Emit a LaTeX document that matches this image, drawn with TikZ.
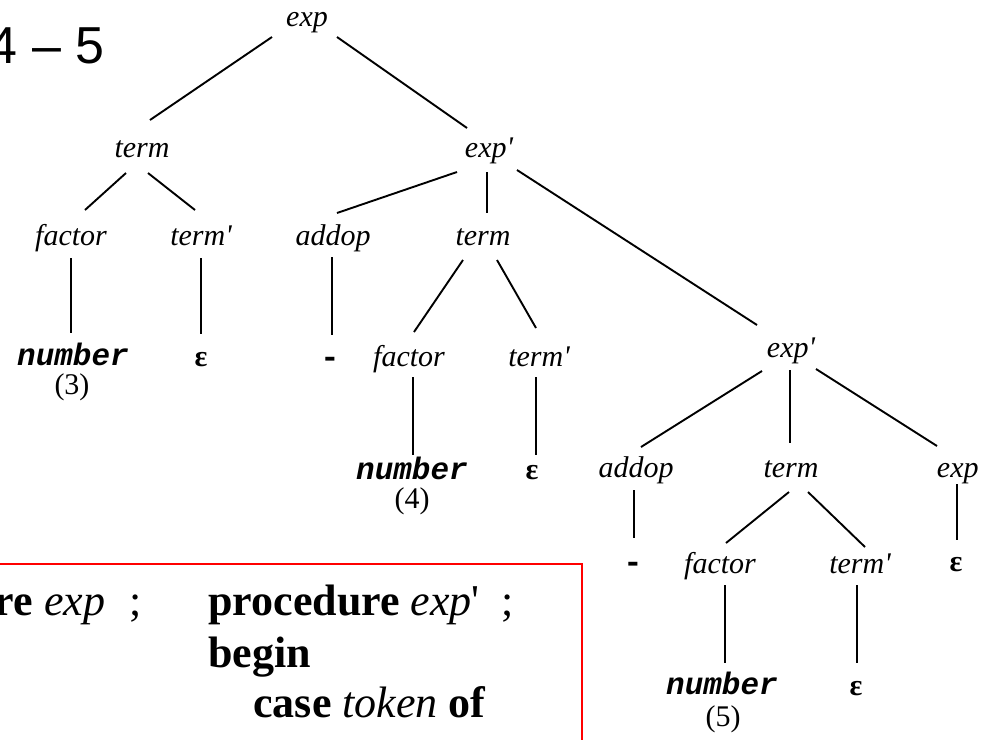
\documentclass[tikz,border=0pt]{standalone}
\usepackage{fontspec}
\newfontfamily\serif{Liberation Serif}[Ligatures=TeXOff]
\newfontfamily\mono{Liberation Mono}
\newfontfamily\sans{Liberation Sans}
\begin{document}
\begin{tikzpicture}[x=0.5pt,y=-0.5pt,
  lbl/.style={anchor=base,inner sep=0pt,font=\serif\fontsize{15}{18}\selectfont\itshape},
  tok/.style={anchor=base,inner sep=0pt,font=\mono\fontsize{15.5}{18}\selectfont\bfseries\itshape},
  eps/.style={anchor=base,inner sep=0pt,font=\serif\fontsize{15}{18}\selectfont\bfseries},
  val/.style={anchor=base,inner sep=0pt,font=\serif\fontsize{15}{18}\selectfont},
  minus/.style={anchor=base,inner sep=0pt,font=\mono\fontsize{16}{18}\selectfont\bfseries},
  codeline/.style={inner sep=0pt,font=\serif\fontsize{22}{26}\selectfont},
  branch/.style={line width=0.95pt},
  frame/.style={draw=red,line width=1pt},
]
\useasboundingbox (0,0) rectangle (982,740);
\clip (0,0) rectangle (982,740);

% heading
\node[anchor=base east,inner sep=0pt,font=\sans\fontsize{26}{30}\selectfont] (title) at (105,63) {4 – 5};

% parse tree
\node[lbl] (e0) at (307,26) {exp};
\node[lbl] (t1) at (142,157) {term};
\node[lbl] (x1) at (489,157) {exp'};
\node[lbl] (f1) at (71,245) {factor};
\node[lbl] (tp1) at (201,245) {term'};
\node[lbl] (a1) at (333,245) {addop};
\node[lbl] (t2) at (483,245) {term};
\node[tok] (n3) at (73,365) {number};
\node[val] (v3) at (72,394) {(3)};
\node[eps] (ep1) at (201,366) {ε};
\node[minus] (m1) at (330,367) {-};
\node[lbl] (f2) at (409,366) {factor};
\node[lbl] (tp2) at (539,366) {term'};
\node[lbl] (x2) at (791,357) {exp'};
\node[tok] (n4) at (412,479) {number};
\node[val] (v4) at (412,508) {(4)};
\node[eps] (ep2) at (532,479) {ε};
\node[lbl] (a2) at (636,477) {addop};
\node[lbl] (t3) at (791,477) {term};
\node[lbl] (x3) at (961,477) {exp'};
\node[minus] (m2) at (633,572) {-};
\node[lbl] (f3) at (720,573) {factor};
\node[lbl] (tp3) at (860,573) {term'};
\node[eps] (ep3) at (956,571) {ε};
\node[tok] (n5) at (722,694) {number};
\node[val] (v5) at (723,726) {(5)};
\node[eps] (ep4) at (856,695) {ε};

\begin{scope}[branch]
\draw ([shift={(-35,11)}]e0.base) -- ([shift={(8,-37)}]t1.base);
\draw ([shift={(30,11)}]e0.base) -- ([shift={(-22,-29)}]x1.base);
\draw ([shift={(-16,16)}]t1.base) -- ([shift={(14,-35)}]f1.base);
\draw ([shift={(6,16)}]t1.base) -- ([shift={(-6,-35)}]tp1.base);
\draw ([shift={(0,13)}]f1.base) -- ([shift={(-2,-32)}]n3.base);
\draw ([shift={(0,13)}]tp1.base) -- ([shift={(0,-32)}]ep1.base);
\draw ([shift={(-32,15)}]x1.base) -- ([shift={(4,-32)}]a1.base);
\draw ([shift={(-2,15)}]x1.base) -- ([shift={(4,-32)}]t2.base);
\draw ([shift={(28,13)}]x1.base) -- ([shift={(-34,-32)}]x2.base);
\draw ([shift={(-1,12)}]a1.base) -- ([shift={(2,-32)}]m1.base);
\draw ([shift={(-20,15)}]t2.base) -- ([shift={(5,-34)}]f2.base);
\draw ([shift={(14,15)}]t2.base) -- ([shift={(-3,-38)}]tp2.base);
\draw ([shift={(4,11)}]f2.base) -- ([shift={(1,-24)}]n4.base);
\draw ([shift={(-3,11)}]tp2.base) -- ([shift={(4,-24)}]ep2.base);
\draw ([shift={(-29,14)}]x2.base) -- ([shift={(5,-30)}]a2.base);
\draw ([shift={(-1,13)}]x2.base) -- ([shift={(-1,-34)}]t3.base);
\draw ([shift={(25,12)}]x2.base) -- ([shift={(-24,-31)}]x3.base);
\draw ([shift={(-2,13)}]a2.base) -- ([shift={(1,-34)}]m2.base);
\draw ([shift={(-2,15)}]t3.base) -- ([shift={(6,-30)}]f3.base);
\draw ([shift={(17,15)}]t3.base) -- ([shift={(5,-26)}]tp3.base);
\draw ([shift={(-4,7)}]x3.base) -- ([shift={(1,-31)}]ep3.base);
\draw ([shift={(5,12)}]f3.base) -- ([shift={(3,-31)}]n5.base);
\draw ([shift={(-3,12)}]tp3.base) -- ([shift={(1,-32)}]ep4.base);
\end{scope}

% recursive-descent code panel
\draw[frame] (-20,564) -| (582,760);
\node[codeline,anchor=base east] (c0) at (142,615) {\textbf{procedure} \textit{exp}\hspace{0.55em};};
\node[codeline,anchor=base west] (c1) at (208,615) {\textbf{procedure} \textit{exp}'\hspace{0.5em};};
\node[codeline,anchor=base west] (c2) at (208,667) {\textbf{begin}};
\node[codeline,anchor=base west] (c3) at (253,717) {\textbf{case} \textit{token} \textbf{of}};
\end{tikzpicture}
\end{document}
